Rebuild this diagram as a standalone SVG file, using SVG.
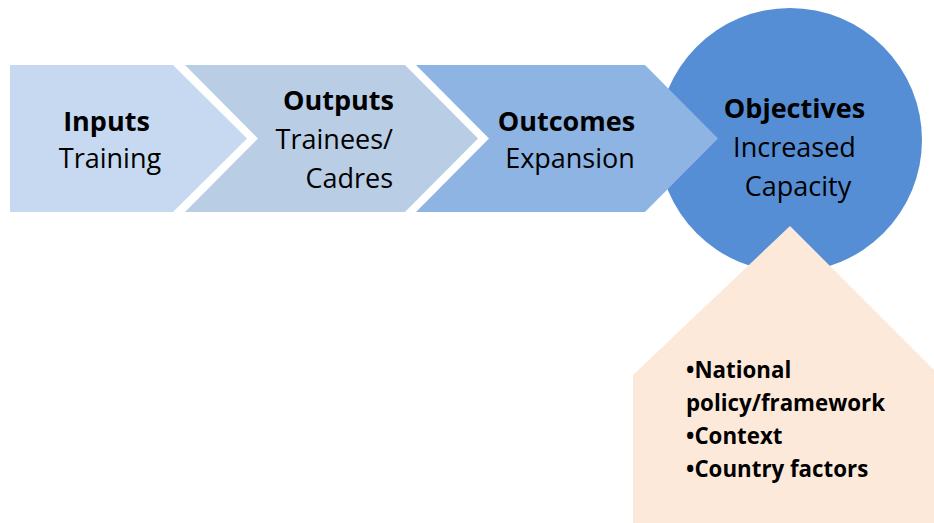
<svg xmlns="http://www.w3.org/2000/svg" width="934" height="523" viewBox="0 0 934 523">
  <style>
    .t { font-family: "Open Sans", "Liberation Sans", sans-serif; fill: #000; }
    .b { font-weight: bold; }
    .lbl { font-size: 27px; }
    .lst { font-size: 22.3px; font-weight: bold; }
  </style>
  <rect width="934" height="523" fill="#ffffff"/>
  <g id="objectives">
    <circle cx="790" cy="140" r="132" fill="#558ED5"/>
    <text class="t lbl" text-anchor="middle">
      <tspan class="b" x="798" y="118">Objectives</tspan>
      <tspan x="798" y="157">Increased</tspan>
      <tspan x="798" y="196">Capacity</tspan>
    </text>
  </g>
  <g id="inputs">
    <polygon points="10,65 173,65 247,138.5 173,212 10,212" fill="#C6D9F1"/>
    <text class="t lbl" text-anchor="middle">
      <tspan class="b" x="110" y="131">Inputs</tspan>
      <tspan x="110" y="168">Training</tspan>
    </text>
  </g>
  <g id="outputs">
    <polygon points="185,65 405,65 478,138.5 405,212 185,212 258,138.5" fill="#B9CDE5"/>
    <text class="t lbl" text-anchor="end">
      <tspan class="b" x="401" y="110">Outputs</tspan>
      <tspan x="400" y="149">Trainees/</tspan>
      <tspan x="393" y="188">Cadres</tspan>
    </text>
  </g>
  <g id="outcomes">
    <polygon points="416,65 645,65 718,138.5 645,212 416,212 489,138.5" fill="#8EB4E3"/>
    <text class="t lbl" text-anchor="middle">
      <tspan class="b" x="570" y="131">Outcomes</tspan>
      <tspan x="570" y="168">Expansion</tspan>
    </text>
  </g>
  <g id="factors">
    <polygon points="790,226 934,370 934,523 633,523 633,375" fill="#FDE9D9"/>
    <text class="t lst">
      <tspan x="686" y="378">•National</tspan>
      <tspan x="686" y="411">policy/framework</tspan>
      <tspan x="686" y="444">•Context</tspan>
      <tspan x="686" y="477">•Country factors</tspan>
    </text>
  </g>
  <g id="connectors"/>
</svg>
